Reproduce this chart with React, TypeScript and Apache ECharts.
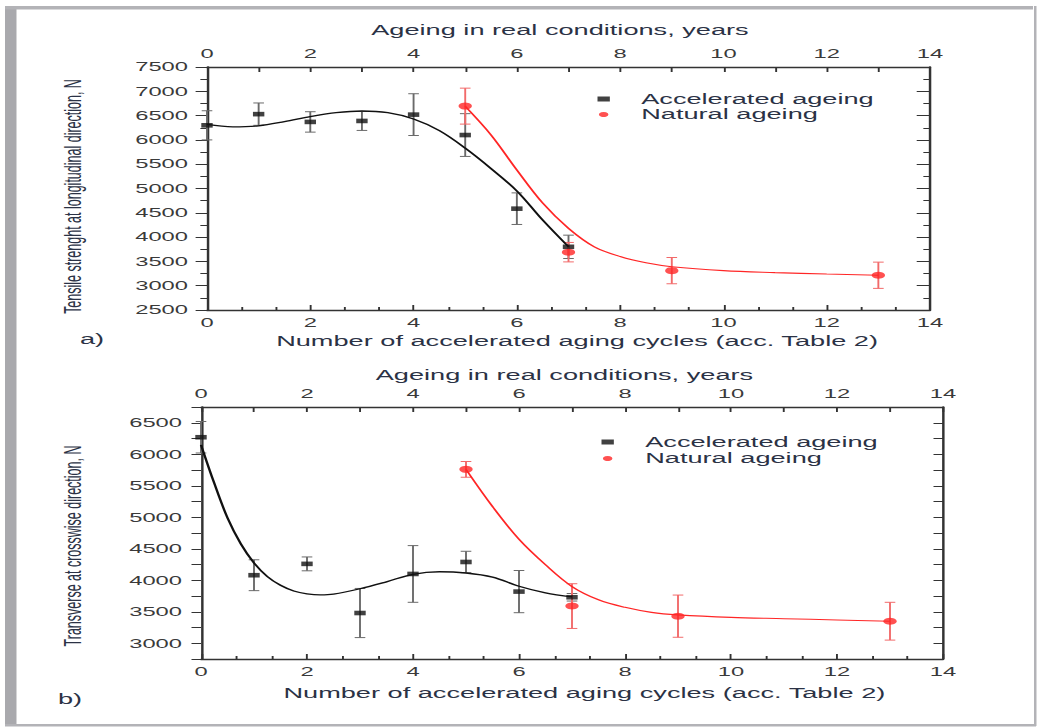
import React, { useEffect, useRef } from "react";
import * as echarts from "echarts";

// horizontal stretch of the reference figure
const S = 1.9;
const W = 1038;
const H = 727;

// ---------- data ----------
const cycles = [0, 1, 2, 3, 4, 5, 6, 7];
const natYears = [5, 7, 9, 13];

// a) tensile strength, longitudinal direction
const accLongMean = [6300, 6530, 6370, 6390, 6520, 6100, 4585, 3800];
const accLongErr = [300, 230, 210, 195, 430, 440, 325, 240];
const natLongMean = [6695, 3690, 3310, 3215];
const natLongErr = [370, 200, 270, 270];

const accLongFitX = [0, 0.5, 1, 1.5, 2, 2.5, 3, 3.5, 4, 4.5, 5, 5.5, 6, 6.5, 7];
const accLongFitY = [6320, 6270, 6290, 6375, 6478, 6560, 6595, 6560, 6430, 6190, 5830, 5410, 4950, 4350, 3800];
const natLongFitX = [5, 5.5, 6, 6.5, 7, 7.5, 8, 8.5, 9, 10, 11, 12, 13];
const natLongFitY = [6690, 6100, 5380, 4700, 4180, 3800, 3600, 3470, 3390, 3310, 3270, 3240, 3215];

// b) transverse, crosswise direction
const accTransMean = [6270, 4080, 4260, 3480, 4100, 4290, 3820, 3730];
const accTransErr = [250, 245, 110, 390, 450, 170, 335, 60];
const natTransMean = [5760, 3590, 3430, 3350];
const natTransErr = [125, 355, 335, 300];

const accTransFitX = [0, 0.25, 0.5, 0.75, 1, 1.25, 1.5, 1.75, 2, 2.25, 2.5, 3, 3.5, 4, 4.5, 5, 5.5, 6, 6.5, 7];
const accTransFitY = [6150, 5540, 4990, 4580, 4275, 4060, 3920, 3830, 3785, 3768, 3780, 3865, 3975, 4095, 4135, 4115, 4050, 3905, 3800, 3735];
const natTransFitX = [5, 5.5, 6, 6.5, 7, 7.5, 8, 8.5, 9, 10, 11, 12, 13];
const natTransFitY = [5760, 5170, 4650, 4245, 3900, 3690, 3570, 3490, 3450, 3410, 3390, 3370, 3350];

const xTicks = { min: 0, max: 14, interval: 2 };
const longRange = { min: 2500, max: 7500, interval: 500 };
const transRange = { min: 2750, max: 6750, interval: 250 };

const ACC = "Accelerated ageing";
const NAT = "Natural ageing";

// ---------- helpers ----------
const FONT = "'Liberation Sans', Arial, sans-serif";
const TEXT = "#2b3245";
const TICKTXT = "#3a3a3a";
const AXIS = "#333";
const BLACK = "#111";
const RED = "#ff2626";

const pairs = (xs: number[], ys: number[]) => xs.map((x, i) => [x, ys[i]]);
const bars = (xs: number[], m: number[], e: number[]) => xs.map((x, i) => [x, m[i] - e[i], m[i] + e[i]]);

function errorBar(color: string) {
  return (params: any, api: any) => {
    const x = api.value(0);
    const lo = api.coord([x, api.value(1)]);
    const hi = api.coord([x, api.value(2)]);
    const c = 2.8;
    const style = { stroke: color, lineWidth: 1 };
    return {
      type: "group",
      children: [
        { type: "line", shape: { x1: lo[0], y1: lo[1], x2: hi[0], y2: hi[1] }, style },
        { type: "line", shape: { x1: lo[0] - c, y1: lo[1], x2: lo[0] + c, y2: lo[1] }, style },
        { type: "line", shape: { x1: hi[0] - c, y1: hi[1], x2: hi[0] + c, y2: hi[1] }, style },
      ],
    };
  };
}

function xAxisCfg(grid: number, pos: "top" | "bottom", name: string, gap: number, pad: number[], minorSplit: number) {
  return {
    type: "value",
    gridIndex: grid,
    position: pos,
    ...xTicks,
    name,
    nameLocation: "middle",
    nameGap: gap,
    nameTextStyle: { fontSize: 14.3, color: TEXT, fontFamily: FONT, padding: pad },
    axisLine: { show: true, onZero: false, lineStyle: { color: AXIS, width: 1.3 } },
    axisTick: { show: true, inside: true, length: 5, lineStyle: { color: AXIS, width: 1 } },
    minorTick: { show: true, splitNumber: minorSplit, length: pos === "top" ? 5 : 3, lineStyle: { color: AXIS, width: 1 } },
    axisLabel: { fontSize: 12.5, color: TICKTXT, fontFamily: FONT, margin: 6.5, formatter: (v: number) => String(v) },
    splitLine: { show: false },
  };
}

function yAxisLeft(grid: number, range: any, name: string, gap: number, pad: number[], formatter: (v: number) => string, minor = true) {
  return {
    type: "value",
    gridIndex: grid,
    position: "left",
    ...range,
    name,
    nameLocation: "middle",
    nameGap: gap,
    nameTextStyle: { fontSize: 12.5, color: TEXT, fontFamily: FONT, padding: pad },
    axisLine: { show: true, onZero: false, lineStyle: { color: AXIS, width: 1.3 } },
    axisTick: { show: true, inside: false, length: minor ? 6 : 5, lineStyle: { color: AXIS, width: 1 } },
    minorTick: { show: minor, splitNumber: 2, length: 3.5, lineStyle: { color: AXIS, width: 1 } },
    axisLabel: { fontSize: 12.5, color: TICKTXT, fontFamily: FONT, margin: 10, formatter },
    splitLine: { show: false },
  };
}

function yAxisRight(grid: number, range: any, minor = true) {
  return {
    type: "value",
    gridIndex: grid,
    position: "right",
    ...range,
    axisLine: { show: true, onZero: false, lineStyle: { color: AXIS, width: 1.3 } },
    axisTick: { show: true, inside: true, length: minor ? 7 : 5, lineStyle: { color: AXIS, width: 1 } },
    minorTick: { show: minor, splitNumber: 2, length: 3.5, lineStyle: { color: AXIS, width: 1 } },
    axisLabel: { show: false },
    splitLine: { show: false },
  };
}

function panelSeries(xb: number, xt: number, y: number, accM: number[], accE: number[], natM: number[], natE: number[],
  accFX: number[], accFY: number[], natFX: number[], natFY: number[]) {
  return [
    {
      type: "custom", name: "acc-err", xAxisIndex: xb, yAxisIndex: y, silent: true,
      renderItem: errorBar("#6a6a6a"), encode: { x: 0, y: [1, 2] }, data: bars(cycles, accM, accE), z: 2,
    },
    {
      type: "custom", name: "nat-err", xAxisIndex: xt, yAxisIndex: y, silent: true,
      renderItem: errorBar("#f26a6a"), encode: { x: 0, y: [1, 2] }, data: bars(natYears, natM, natE), z: 2,
    },
    {
      type: "line", name: "acc-fit", xAxisIndex: xb, yAxisIndex: y, smooth: 0.35,
      showSymbol: false, symbol: "none",
      lineStyle: { color: BLACK, width: 1.3 }, data: pairs(accFX, accFY), z: 3,
    },
    {
      type: "line", name: "nat-fit", xAxisIndex: xt, yAxisIndex: y, smooth: 0.35,
      showSymbol: false, symbol: "none",
      lineStyle: { color: RED, width: 1.1 }, data: pairs(natFX, natFY), z: 3,
    },
    {
      type: "scatter", name: ACC, xAxisIndex: xb, yAxisIndex: y, symbol: "rect", symbolSize: [6, 4.6],
      itemStyle: { color: BLACK }, data: pairs(cycles, accM), z: 4,
    },
    {
      type: "scatter", name: NAT, xAxisIndex: xt, yAxisIndex: y, symbol: "circle", symbolSize: 7,
      itemStyle: { color: RED }, data: pairs(natYears, natM), z: 4,
    },
  ];
}

function legendCfg(left: number, top: number, gap: number) {
  return {
    data: [ACC, NAT],
    orient: "vertical",
    left,
    top,
    itemWidth: 6.5,
    itemHeight: 5,
    itemGap: gap,
    selectedMode: false,
    textStyle: { fontSize: 14.3, color: TEXT, fontFamily: FONT, padding: [0, 0, 0, 11.5], lineHeight: 14 },
  };
}

export default function App() {
  const ref = useRef<HTMLDivElement>(null);

  useEffect(() => {
    if (!ref.current) return;
    const chart = echarts.init(ref.current, undefined, { renderer: "svg" });
    const frame = "#a9a9ad";
    const option: any = {
      animation: false,
      backgroundColor: "#ffffff",
      grid: [
        { left: 207 / S, top: 67, width: 723 / S, height: 243 },
        { left: 201 / S, top: 407, width: 742 / S, height: 252 },
      ],
      xAxis: [
        xAxisCfg(0, "bottom", "Number of accelerated aging cycles (acc. Table 2)", 24, [0, 0, 0, 9], 3),
        xAxisCfg(0, "top", "Ageing in real conditions, years", 30, [0, 9, 0, 0], 2),
        xAxisCfg(1, "bottom", "Number of accelerated aging cycles (acc. Table 2)", 27, [0, 0, 0, 13], 3),
        xAxisCfg(1, "top", "Ageing in real conditions, years", 25, [0, 8, 0, 0], 2),
      ],
      yAxis: [
        yAxisLeft(0, longRange, "Tensile strenght at longitudinal direction, N", 64, [0, 16, 0, 0],
          (v: number) => String(v)),
        yAxisRight(0, longRange),
        yAxisLeft(1, transRange, "Transverse at crosswise direction, N", 61, [0, 26, 0, 0],
          (v: number) => (v % 500 === 0 ? String(v) : ""), false),
        yAxisRight(1, transRange, false),
      ],
      legend: [legendCfg(588 / S, 87, 1.5), legendCfg(592 / S, 430, 2.5)],
      series: [
        ...panelSeries(0, 1, 0, accLongMean, accLongErr, natLongMean, natLongErr,
          accLongFitX, accLongFitY, natLongFitX, natLongFitY),
        ...panelSeries(2, 3, 2, accTransMean, accTransErr, natTransMean, natTransErr,
          accTransFitX, accTransFitY, natTransFitX, natTransFitY),
      ],
      graphic: [
        { type: "rect", silent: true, shape: { x: 5 / S, y: 6, width: 11.5 / S, height: 720 }, style: { fill: frame } },
        { type: "rect", silent: true, shape: { x: 5 / S, y: 6, width: (1033 - 5) / S, height: 3.5 }, style: { fill: "#b3b3b7" } },
        { type: "rect", silent: true, shape: { x: 1034 / S, y: 6, width: 2.5 / S, height: 720 }, style: { fill: "#b3b3b7" } },
        { type: "rect", silent: true, shape: { x: 5 / S, y: 724, width: (1036 - 5) / S, height: 2.5 }, style: { fill: "#b3b3b7" } },
        { type: "text", silent: true, x: 80 / S, y: 339, style: { text: "a)", fontSize: 14.3, fill: TEXT, fontFamily: FONT, verticalAlign: "middle" } },
        { type: "text", silent: true, x: 58 / S, y: 699, style: { text: "b)", fontSize: 14.3, fill: TEXT, fontFamily: FONT, verticalAlign: "middle" } },
      ],
    };
    chart.setOption(option);
    return () => chart.dispose();
  }, []);

  return (
    <div style={{ position: "fixed", left: 0, top: 0, width: W, height: H, overflow: "hidden", background: "#fff" }}>
      <div
        ref={ref}
        style={{ width: W / S, height: H, transform: `scaleX(${S})`, transformOrigin: "0 0" }}
      />
    </div>
  );
}
